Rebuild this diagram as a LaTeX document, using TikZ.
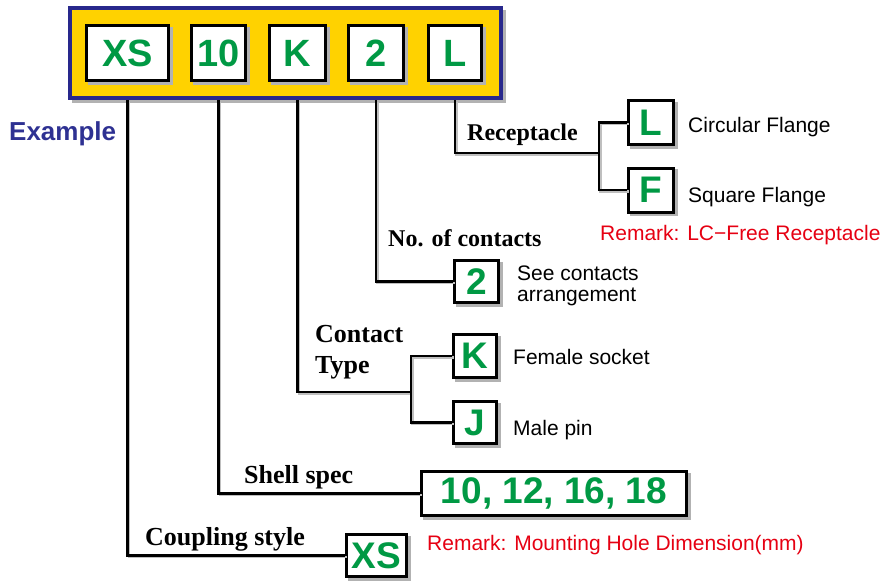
\documentclass[tikz,border=0pt]{standalone}
\usepackage{fontspec}
\setmainfont{Liberation Serif}
\setsansfont{Liberation Sans}

\definecolor{codegreen}{RGB}{0,153,68}
\definecolor{frameyellow}{RGB}{255,210,0}
\definecolor{frameblue}{RGB}{40,40,140}
\definecolor{exblue}{RGB}{46,49,146}
\definecolor{remarkred}{RGB}{230,0,18}

\begin{document}
\begin{tikzpicture}[x=1pt, y=-1pt,
  boxshadow/.style={preaction={fill=black!30, draw=black!30, line width=3pt,
    transform canvas={xshift=#1, yshift=-#1}}},
  codebox/.style={boxshadow=2.5pt, draw=black, line width=3pt, fill=white, text=codegreen,
    font=\sffamily\bfseries\fontsize{37}{37}\selectfont, inner sep=0pt,
    minimum width=45pt, minimum height=44pt},
  topbox/.style={codebox, minimum height=55pt, font=\sffamily\bfseries\fontsize{38}{38}\selectfont},
  frame/.style={boxshadow=3pt, draw=frameblue, line width=4pt, fill=frameyellow, inner sep=0pt},
  wire/.style={preaction={draw=black!25, line width=2.5pt,
    transform canvas={xshift=1.5pt, yshift=-1.5pt}}, draw=black, line width=2.5pt},
  field/.style={anchor=base west, inner sep=0pt, font=\bfseries\fontsize{24}{24}\selectfont},
  bigfield/.style={field, font=\bfseries\fontsize{26}{26}\selectfont},
  note/.style={anchor=base west, inner sep=0pt, font=\sffamily\fontsize{21}{21}\selectfont},
  remark/.style={note, text=remarkred}]

\useasboundingbox (0,0) rectangle (882,581);

% The ordering code in its yellow frame
\node[frame, minimum width=431pt, minimum height=90pt] (frame) at (285.5,53) {};
\foreach \nm/\x/\w in {XS/127.5/82, 10/218.5/54, K/297.5/56, 2/376/55, L/455/53} {
  \node[topbox, minimum width=\w pt] (t\nm) at (\x,53) {\nm};
}

\node[anchor=base west, inner sep=0pt, text=exblue,
  font=\sffamily\bfseries\fontsize{26}{26}\selectfont] (example) at (9,140) {Example};

% Connectors
\coordinate (jRec) at (599,153);
\coordinate (jCon) at (411,392);

% Receptacle
\node[codebox] (rL) at (651,122.5) {L};
\node[codebox] (rF) at (651,190) {F};
\node[note] (rLtxt) at (688,132) {Circular Flange};
\node[note] (rFtxt) at (688,202) {Square Flange};
\node[remark] (rRem) at (600,240) {Remark: LC−Free Receptacle};
\node[field] (recLab) at (467,140) {Receptacle};
\draw[wire] (tL |- frame.south) |- (jRec);
\draw[wire] (rL.west) -| (jRec) |- (rF.west);

% No. of contacts
\node[codebox, minimum width=44pt, minimum height=42pt] (n2) at (476.5,281.5) {2};
\node[note] (n2txtA) at (517,280) {See contacts};
\node[note] (n2txtB) at (517,301) {arrangement};
\node[field] (noLab) at (388,246) {No. of contacts};
\draw[wire] (t2 |- frame.south) |- (n2.west);

% Contact type
\node[codebox, minimum width=43pt, minimum height=43pt] (cK) at (475,356) {K};
\node[codebox, minimum width=43pt, minimum height=42pt] (cJ) at (475,422.5) {J};
\node[note] (cKtxt) at (513,364) {Female socket};
\node[note] (cJtxt) at (513,435) {Male pin};
\node[bigfield] (conLabA) at (315,342) {Contact};
\node[bigfield] (conLabB) at (315,373) {Type};
\draw[wire] (tK |- frame.south) |- (jCon);
\draw[wire] (cK.west) -| (jCon) |- (cJ.west);

% Shell spec
\node[codebox, minimum width=265pt] (shell) at (554,493.5) {10, 12, 16, 18};
\node[bigfield] (shellLab) at (244,483) {Shell spec};
\draw[wire] (t10 |- frame.south) |- (shell.west);

% Coupling style
\node[codebox, minimum width=60pt, minimum height=42pt] (bXS) at (376.5,555.5) {XS};
\node[bigfield] (coupLab) at (145,545) {Coupling style};
\node[remark] (mRem) at (427,550) {Remark: Mounting Hole Dimension(mm)};
\draw[wire] (tXS |- frame.south) |- (bXS.west);

\end{tikzpicture}
\end{document}
